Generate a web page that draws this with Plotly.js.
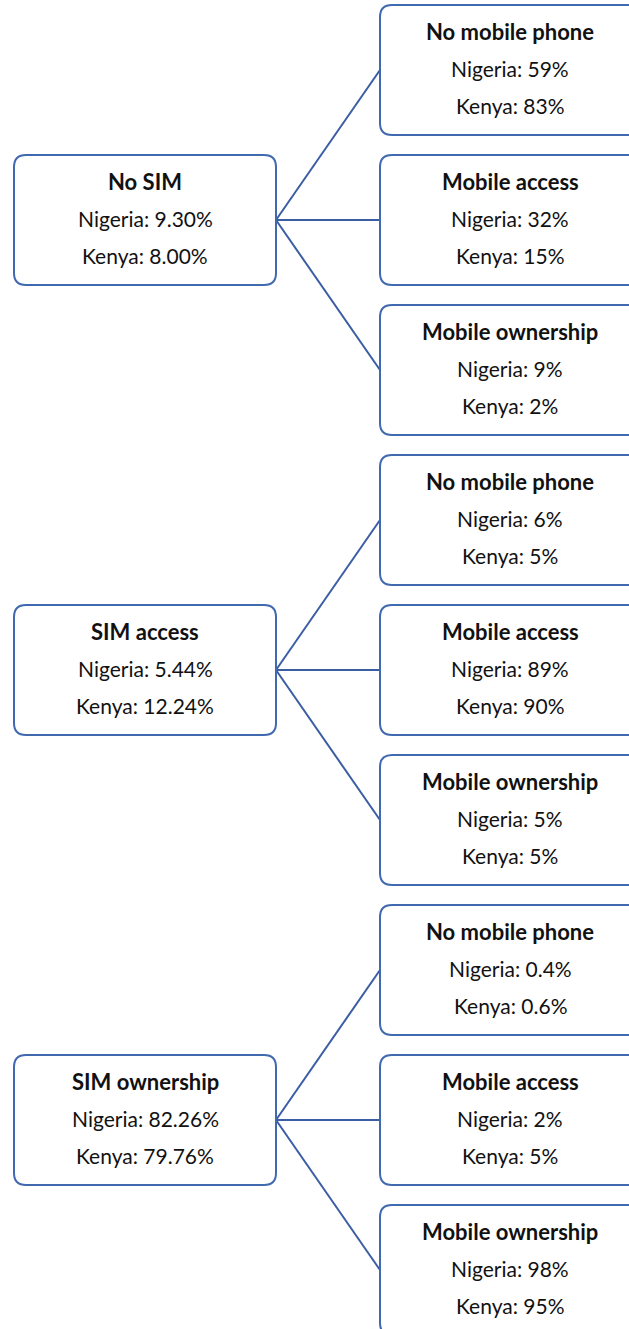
<!DOCTYPE html>
<html>
<head>
<meta charset="utf-8">
<script src="https://cdn.plot.ly/plotly-3.0.1.min.js"></script>
<style>html,body{margin:0;padding:0;background:#fff;}#chart{width:629px;height:1329px;}</style>
</head>
<body>
<div id="chart"></div>
<script>
// ---- Data ----
const rootLabels = ['No SIM', 'SIM access', 'SIM ownership'];
const rootNigeria = ['9.30%', '5.44%', '82.26%'];
const rootKenya = ['8.00%', '12.24%', '79.76%'];
const leafLabels = ['No mobile phone', 'Mobile access', 'Mobile ownership'];
const leafNigeria = [['59%', '32%', '9%'], ['6%', '89%', '5%'], ['0.4%', '2%', '98%']];
const leafKenya = [['83%', '15%', '2%'], ['5%', '90%', '5%'], ['0.6%', '5%', '95%']];

// ---- Layout geometry ----
const W = 629, H = 1329;
const boxH = 130, rad = 12;
const rootX0 = 14, rootX1 = 276;
const leafX0 = 380, leafX1 = 645;
const leafTop0 = 5, leafStep = 150;
const groupStep = 450;
const lineGap = 37;
const textShift = -1.5;
const boxColor = '#4169B0';
const lineColor = '#3B5DA3';
const fontReg = {family: 'Lato, "Open Sans", sans-serif', size: 21, color: '#111'};
const fontBold = {family: 'Lato, "Open Sans", sans-serif', size: 22, color: '#111'};

function roundRect(x0, y0, x1, y1, r) {
  return `M${x0 + r},${y0} L${x1 - r},${y0} Q${x1},${y0} ${x1},${y0 + r} ` +
    `L${x1},${y1 - r} Q${x1},${y1} ${x1 - r},${y1} L${x0 + r},${y1} ` +
    `Q${x0},${y1} ${x0},${y1 - r} L${x0},${y0 + r} Q${x0},${y0} ${x0 + r},${y0} Z`;
}

const shapes = [];
const annotations = [];
function addText(x, yc, title, nig, ken) {
  const lines = [['<b>' + title + '</b>', -lineGap, fontBold], ['Nigeria: ' + nig, 0, fontReg], ['Kenya: ' + ken, lineGap, fontReg]];
  lines.forEach(([t, dy, f]) => {
    annotations.push({x: x, y: yc + dy + textShift, xref: 'x', yref: 'y', text: t, showarrow: false,
      xanchor: 'center', yanchor: 'middle', font: f});
  });
}

rootLabels.forEach((lab, g) => {
  const rTop = leafTop0 + g * groupStep + leafStep;
  const rc = rTop + boxH / 2;
  leafLabels.forEach((ll, j) => {
    const lTop = leafTop0 + g * groupStep + j * leafStep;
    const lc = lTop + boxH / 2;
    shapes.push({type: 'line', xref: 'x', yref: 'y', x0: rootX1, y0: rc, x1: leafX0, y1: lc,
      line: {color: lineColor, width: 2}, layer: 'above'});
  });
  shapes.push({type: 'path', xref: 'x', yref: 'y', path: roundRect(rootX0, rTop, rootX1, rTop + boxH, rad),
    fillcolor: 'white', line: {color: boxColor, width: 2}, layer: 'above'});
  addText((rootX0 + rootX1) / 2, rc, lab, rootNigeria[g], rootKenya[g]);
  leafLabels.forEach((ll, j) => {
    const lTop = leafTop0 + g * groupStep + j * leafStep;
    const lc = lTop + boxH / 2;
    shapes.push({type: 'path', xref: 'x', yref: 'y', path: roundRect(leafX0, lTop, leafX1, lTop + boxH, rad),
      fillcolor: 'white', line: {color: boxColor, width: 2}, layer: 'above'});
    addText((leafX0 + 640) / 2, lc, ll, leafNigeria[g][j], leafKenya[g][j]);
  });
});

const layout = {
  width: W, height: H,
  margin: {l: 0, r: 0, t: 0, b: 0},
  paper_bgcolor: 'white', plot_bgcolor: 'white',
  xaxis: {range: [0, W], visible: false, fixedrange: true},
  yaxis: {range: [H, 0], visible: false, fixedrange: true},
  showlegend: false,
  shapes: shapes,
  annotations: annotations
};

Plotly.newPlot('chart', [{x: [], y: [], type: 'scatter'}], layout, {staticPlot: true, displayModeBar: false});
</script>
</body>
</html>
